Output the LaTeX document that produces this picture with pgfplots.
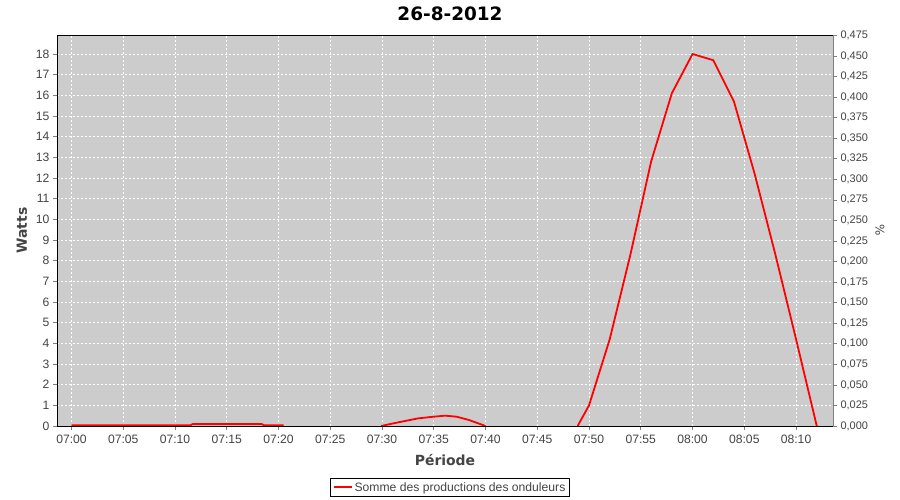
\documentclass[border=0pt]{standalone}
\usepackage{fontspec}
\setmainfont{Liberation Sans}
\newfontfamily\djv{DejaVu Sans}
\usepackage{pgfplots}
\pgfplotsset{compat=1.18}
\definecolor{plotbg}{RGB}{204,204,204}
\definecolor{labgray}{RGB}{68,68,68}
\definecolor{tickgray}{RGB}{128,128,128}
\begin{document}
\begin{tikzpicture}[x=1bp,y=1bp]
\useasboundingbox (0,0) rectangle (900,500);
\fill[white] (0,0) rectangle (900,500);
\node[font={\djv\bfseries\fontsize{18.5}{20}\selectfont}, text=black] at (450,486) {26-8-2012};
\begin{axis}[
  at={(57bp,74bp)}, anchor=south west,
  width=776bp, height=391bp, scale only axis,
  xmin=-1.40, xmax=73.57,
  ymin=0, ymax=18.92,
  axis background/.style={fill=plotbg},
  axis line style={black, line width=0.8pt},
  grid=major,
  major grid style={white, dashed, line width=0.6pt, dash pattern=on 2bp off 2bp},
  xtick={0,5,...,70},
  xticklabels={07:00,07:05,07:10,07:15,07:20,07:25,07:30,07:35,07:40,07:45,07:50,07:55,08:00,08:05,08:10},
  ytick={0,1,...,18},
  xtick pos=bottom, ytick pos=left,
  tick align=outside,
  major tick length=4bp,
  tick style={tickgray, line width=0.6pt},
  /pgf/number format/assume math mode=true,
  tick label style={font=\fontsize{12.2}{14}\selectfont, text=labgray},
  xticklabel style={yshift=-1bp},
  xlabel={Période},
  ylabel={Watts},
  label style={font={\djv\bfseries\fontsize{14}{16}\selectfont}, text=labgray},
  xlabel style={at={(axis description cs:0.5,-0.087)}, anchor=center},
  ylabel style={at={(axis description cs:-0.0451,0.5)}, anchor=center, rotate=0},
  unbounded coords=jump,
  legend style={at={(axis description cs:0.5064,-0.157)}, anchor=center,
    draw=black, line width=0.6pt, fill=white, font=\fontsize{12.2}{14}\selectfont,
    text=labgray, inner sep=2bp, row sep=0pt},
  legend cell align=left,
  legend image code/.code={\draw[#1, line width=2bp] (0bp,0bp) -- (18bp,0bp);},
]
\addplot[red, line width=1.8bp] coordinates {
  (0,0.03) (11.5,0.04) (11.7,0.09) (18.4,0.09) (18.6,0.04) (20.5,0.03)
  (20.6,nan)
  (29.9,0) (31.8,0.2) (33.5,0.37) (35,0.45) (36.1,0.5) (37.2,0.45) (38.4,0.29) (40,0)
  (40.1,nan)
  (48.9,0) (50,1.0) (52,4.2) (54,8.3) (56,12.8) (58,16.1) (60,18.0) (62,17.7)
  (64,15.7) (66,12.2) (68,8.3) (70,4.2) (72,0)
};
\addlegendentry{Somme des productions des onduleurs}
\end{axis}
\begin{axis}[
  at={(57bp,74bp)}, anchor=south west,
  width=776bp, height=391bp, scale only axis,
  xmin=-1.40, xmax=73.57,
  ymin=0, ymax=0.4755,
  axis x line=none,
  axis y line*=right,
  axis line style={tickgray, line width=0.6pt},
  ytick={0,0.025,...,0.476},
  tick align=outside,
  major tick length=4bp,
  tick style={tickgray, line width=0.6pt},
  /pgf/number format/.cd, fixed, fixed zerofill, precision=3, use comma, assume math mode=true,
  /pgfplots/.cd,
  tick label style={font=\fontsize{11}{13}\selectfont, text=labgray},
  ylabel={\%},
  label style={font={\djv\fontsize{12}{14}\selectfont}, text=labgray},
  ylabel style={at={(axis description cs:1.0606,0.5)}, anchor=center, rotate=180},
]
\addplot[draw=none] coordinates {(0,0)};
\end{axis}
\end{tikzpicture}
\end{document}
